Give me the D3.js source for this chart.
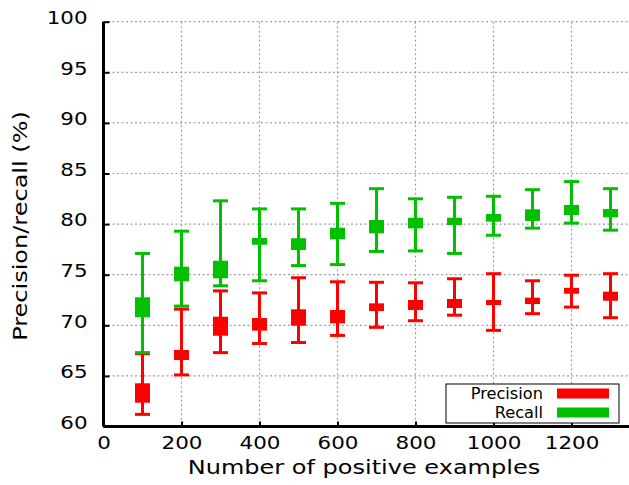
<html><head>
<script src="https://d3js.org/d3.v7.min.js"></script>
<style>
  body { margin: 0; background: #fff; }
  text { font-family: "DejaVu Sans", sans-serif; fill: #000; }
  .grid line { stroke: #a0a0a0; stroke-width: 1.2px; stroke-dasharray: 2,2.5; }
</style>
</head>
<body>
<script>
// number of positive examples
const counts = [100, 200, 300, 400, 500, 600, 700, 800, 900, 1000, 1100, 1200, 1300];

// precision (%): whisker min/max and box low/high
const precMin = [61.2, 65.1, 67.3, 68.2, 68.3, 69.0, 69.8, 70.45, 71.0, 69.5, 71.15, 71.8, 70.75];
const precMax = [67.2, 71.6, 73.4, 73.2, 74.7, 74.3, 74.25, 74.2, 74.6, 75.1, 74.4, 74.95, 75.1];
const precLo  = [62.35, 66.57, 68.97, 69.47, 69.96, 70.2, 71.41, 71.51, 71.71, 72.0, 72.1, 73.12, 72.43];
const precHi  = [64.27, 67.56, 70.85, 70.72, 71.58, 71.51, 72.17, 72.5, 72.6, 72.5, 72.73, 73.7, 73.32];

// recall (%)
const recMin = [67.3, 71.9, 73.9, 74.4, 75.9, 76.0, 77.3, 77.35, 77.1, 78.9, 79.6, 80.1, 79.4];
const recMax = [77.1, 79.3, 82.3, 81.5, 81.5, 82.05, 83.5, 82.5, 82.65, 82.75, 83.4, 84.2, 83.5];
const recLo  = [70.79, 74.35, 74.64, 77.96, 77.44, 78.5, 79.09, 79.58, 79.91, 80.24, 80.31, 80.9, 80.67];
const recHi  = [72.77, 75.79, 76.38, 78.63, 78.6, 79.64, 80.4, 80.63, 80.63, 81.0, 81.46, 81.89, 81.49];

const xTicks = [0, 200, 400, 600, 800, 1000, 1200];
const yTicks = [60, 65, 70, 75, 80, 85, 90, 95, 100];

const series = [
  {name: "Precision", color: "#ff0000", min: precMin, max: precMax, lo: precLo, hi: precHi},
  {name: "Recall", color: "#00c000", min: recMin, max: recMax, lo: recLo, hi: recHi}
];

const width = 629, height = 485;
const svg = d3.select("body").append("svg")
  .attr("width", width).attr("height", height);

const x = d3.scaleLinear().domain([0, 1350]).range([103.5, 630]);
const y = d3.scaleLinear().domain([60, 100]).range([426.5, 21.7]);

// gnuplot's font renders wider than DejaVu here, so stretch text sideways
function widen(sel, k) {
  sel.each(function() {
    const w = this.getComputedTextLength();
    d3.select(this).attr("textLength", w * k).attr("lengthAdjust", "spacingAndGlyphs");
  });
}

// grid
const grid = svg.append("g").attr("class", "grid");
grid.selectAll("line.h").data(yTicks.filter(d => d > 60)).join("line")
  .attr("class", "h")
  .attr("x1", x(0)).attr("x2", width)
  .attr("y1", d => y(d)).attr("y2", d => y(d));
grid.selectAll("line.v").data(xTicks.filter(d => d > 0)).join("line")
  .attr("class", "v")
  .attr("x1", d => x(d)).attr("x2", d => x(d))
  .attr("y1", y(100)).attr("y2", y(60));

// candlesticks
const boxW = 15;
series.forEach(s => {
  const g = svg.append("g");
  counts.forEach((c, i) => {
    const cx = x(c);
    g.append("line")
      .attr("x1", cx).attr("x2", cx)
      .attr("y1", y(s.min[i])).attr("y2", y(s.max[i]))
      .attr("stroke", s.color).attr("stroke-width", 3);
    [s.min[i], s.max[i]].forEach(v => {
      g.append("line")
        .attr("x1", cx - boxW / 2).attr("x2", cx + boxW / 2)
        .attr("y1", y(v)).attr("y2", y(v))
        .attr("stroke", s.color).attr("stroke-width", 3);
    });
    g.append("rect")
      .attr("x", cx - boxW / 2).attr("width", boxW)
      .attr("y", y(s.hi[i])).attr("height", y(s.lo[i]) - y(s.hi[i]))
      .attr("fill", s.color);
  });
});

// axes (left + bottom only)
const xAxis = svg.append("g").attr("transform", "translate(0," + y(60) + ")")
  .call(d3.axisBottom(x).tickValues(xTicks).tickSize(-5).tickPadding(10).tickFormat(d3.format("d")));
const yAxis = svg.append("g").attr("transform", "translate(" + x(0) + ",0)")
  .call(d3.axisLeft(y).tickValues(yTicks).tickSize(-6).tickPadding(16));
[xAxis, yAxis].forEach(a => {
  a.select(".domain").attr("stroke", "#000").attr("stroke-width", 3);
  a.selectAll(".tick line").attr("stroke", "#000").attr("stroke-width", 2);
  a.selectAll(".tick text").style("font-family", "DejaVu Sans").style("font-size", "18px").attr("fill", "#000");
  widen(a.selectAll(".tick text"), 1.19);
});
xAxis.select(".domain").attr("d", "M" + x(0) + ",0H" + width);
yAxis.select(".domain").attr("d", "M0," + y(100) + "V" + y(60));
yAxis.selectAll(".tick text").attr("dy", "0.1em");

// axis titles
svg.append("text")
  .attr("x", 364).attr("y", 474)
  .attr("text-anchor", "middle")
  .style("font-size", "20px")
  .text("Number of positive examples")
  .call(widen, 1.2);
svg.append("text")
  .attr("transform", "translate(27,226) rotate(-90)")
  .attr("text-anchor", "middle")
  .style("font-size", "20px")
  .text("Precision/recall (%)")
  .call(widen, 1.2);

// legend
const legend = svg.append("g");
legend.append("rect")
  .attr("x", 446).attr("y", 384).attr("width", 173).attr("height", 39)
  .attr("fill", "#fff").attr("stroke", "#000").attr("stroke-width", 1);
series.forEach((s, i) => {
  const ly = 393.5 + i * 19;
  legend.append("text")
    .attr("x", 543).attr("y", ly + 5)
    .attr("text-anchor", "end")
    .style("font-size", "15px")
    .attr("fill", "#222")
    .text(s.name)
    .call(widen, 1.08);
  legend.append("rect")
    .attr("x", 557).attr("y", ly - 5).attr("width", 52).attr("height", 10)
    .attr("fill", s.color);
});
</script>
</body></html>
